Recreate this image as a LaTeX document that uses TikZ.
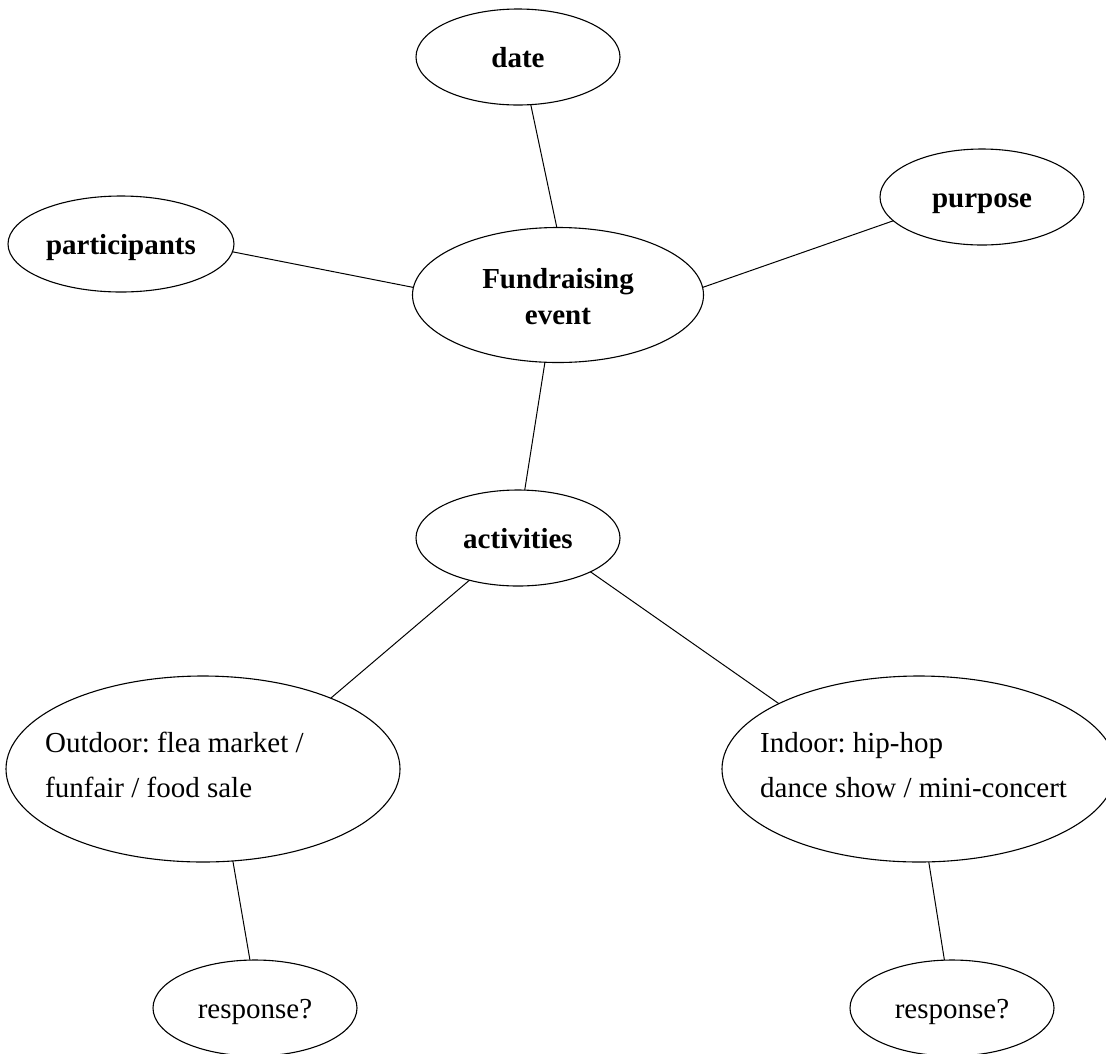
\documentclass[tikz,border=0pt]{standalone}
\usepackage{fontspec}
\setmainfont{Liberation Serif}
\usetikzlibrary{shapes.geometric}
\frenchspacing
\begin{document}
\begin{tikzpicture}[x=1pt,y=-1pt,
  oval/.style={draw=black,ellipse,line width=1.1pt,inner sep=0pt,outer sep=0pt,align=center},
  oneline/.style={text height=20pt,text depth=0pt},
  boldtxt/.style={font=\bfseries\fontsize{29}{36}\selectfont},
  plaintxt/.style={font=\frenchspacing\fontsize{29}{45}\selectfont},
  small/.style={minimum width=204,minimum height=96},
  big/.style={minimum width=394,minimum height=186},
  link/.style={draw=black,line width=1pt},
  freetext/.style={inner sep=0pt,align=left,plaintxt}]
\useasboundingbox (0,0) rectangle (1106,1053);
\clip (0,0) rectangle (1106,1053);
\node[oval,minimum width=291,minimum height=135] (fund) at (558,295) {};
\node[inner sep=0pt,align=center,boldtxt] (fundtext) at (558,297) {Fundraising\\event};
\node[oval,boldtxt,oneline,small] (date) at (518,57) {date};
\node[oval,boldtxt,oneline,small] (purpose) at (982,197) {purpose};
\node[oval,boldtxt,oneline,small,minimum width=226] (participants) at (121,244) {participants};
\node[oval,boldtxt,oneline,small] (activities) at (518,538) {activities};
\node[oval,big] (outdoor) at (203,769) {};
\node[oval,big] (indoor) at (919,769) {};
\node[freetext,anchor=west] (outdoortext) at (45,764.7) {Outdoor: flea market /\\funfair / food sale};
\node[freetext,anchor=west] (indoortext) at (760,764.7) {Indoor: hip-hop\\dance show / mini-concert};
\node[oval,plaintxt,oneline,small] (resp1) at (255,1008) {response?};
\node[oval,plaintxt,oneline,small] (resp2) at (952,1008) {response?};
\draw[link] (date.-75.4) -- (fund.91.7);
\draw[link] (participants.-4.6) -- (fund.177.6);
\draw[link] (purpose.195) -- (fund.3.9);
\draw[link] (fund.-101.6) -- (activities.82.7);
\draw[link] (activities.-139.8) -- (outdoor.29.6);
\draw[link] (activities.-25.9) -- (indoor.155.6);
\draw[link] (outdoor.-72) -- (resp1.96);
\draw[link] (indoor.-84.4) -- (resp2.99.5);
\end{tikzpicture}
\end{document}
